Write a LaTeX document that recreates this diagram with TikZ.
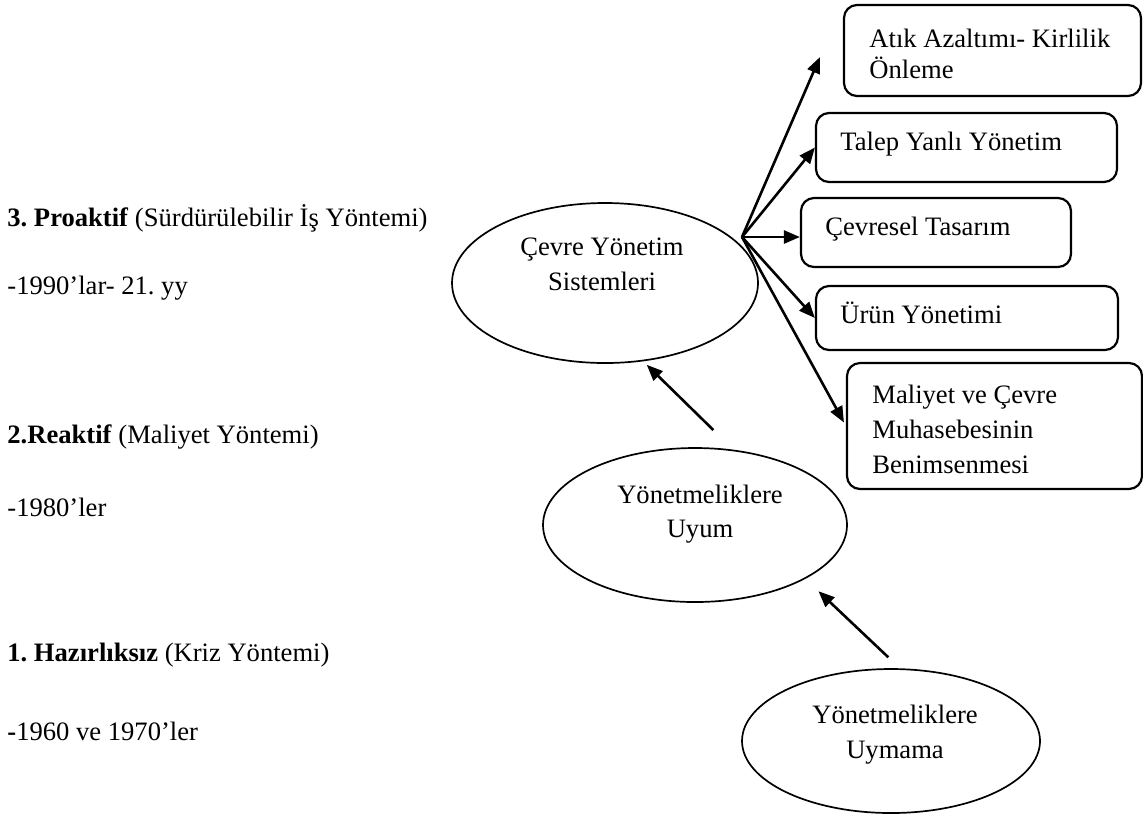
\documentclass[tikz,border=0pt]{standalone}
\usepackage{fontspec}
\setmainfont{Liberation Serif}
\usetikzlibrary{shapes.geometric,arrows.meta}
\def\pxu{0.5pt}
\frenchspacing
\begin{document}
\begin{tikzpicture}[x=0.5pt,y=-0.5pt,
  every node/.style={font=\fontsize{13.3}{17.5}\selectfont},
  box/.style={draw, line width=1.1pt, rounded corners=6.5pt, inner sep=0pt},
  oval/.style={draw, ellipse, line width=0.85pt, inner sep=0pt},
  txt/.style={inner sep=0pt, anchor=base west},
  mtxt/.style={inner sep=0pt, anchor=base west, align=left},
  ctxt/.style={inner sep=0pt, anchor=base, align=center},
  arr/.style={line width=1.3pt, -{Triangle[length=8pt,width=6.5pt]}}]

% page
\fill[white] (0,0) rectangle (1143,816);
\useasboundingbox (0,0) rectangle (1143,816);

% stages on the left
\node[txt] (p3) at (7,226) {\textbf{3. Proaktif} (Sürdürülebilir İş Yöntemi)};
\node[txt] (d3) at (7,294) {-1990’lar- 21. yy};
\node[txt] (p2) at (7,443) {\textbf{2.Reaktif} (Maliyet Yöntemi)};
\node[txt] (d2) at (7,516) {-1980’ler};
\node[txt] (p1) at (7,661) {\textbf{1. Hazırlıksız} (Kriz Yöntemi)};
\node[txt] (d1) at (7,740) {\textbf{-}1960 ve 1970’ler};

% ellipses
\node[oval, minimum width=306*\pxu, minimum height=160*\pxu] (cys) at (605,283) {};
\node[oval, minimum width=304*\pxu, minimum height=154*\pxu] (uyum) at (695,525) {};
\node[oval, minimum width=298*\pxu, minimum height=144*\pxu] (nonc) at (891,741) {};
\node[ctxt] (cyst) at (602,290) {Çevre Yönetim\\Sistemleri};
\node[ctxt, font=\fontsize{13.3}{17}\selectfont] (uyumt) at (700,537) {Yönetmeliklere\\Uyum};
\node[ctxt, font=\fontsize{13.3}{17.2}\selectfont] (nonct) at (895,758) {Yönetmeliklere\\Uymama};

% boxes
\node[box, minimum width=297*\pxu, minimum height=91*\pxu] (b1) at (992.5,50.5) {};
\node[box, minimum width=301*\pxu, minimum height=69*\pxu] (b2) at (966.5,147.5) {};
\node[box, minimum width=270*\pxu, minimum height=69*\pxu] (b3) at (936,232.5) {};
\node[box, minimum width=302*\pxu, minimum height=64*\pxu] (b4) at (967,318) {};
\node[box, minimum width=295*\pxu, minimum height=126*\pxu] (b5) at (994.5,426) {};

\node[mtxt, font=\fontsize{13.3}{15.4}\selectfont] (t1) at (869,78) {Atık Azaltımı- Kirlilik\\Önleme};
\node[txt] (t2) at (840,150) {Talep Yanlı Yönetim};
\node[txt] (t3) at (825,235) {Çevresel Tasarım};
\node[txt] (t4) at (840,323) {Ürün Yönetimi};
\node[mtxt] (t5) at (872,473) {Maliyet ve Çevre\\Muhasebesinin\\Benimsenmesi};

% connectors
\coordinate (hub) at (742,237);
\draw[arr, shorten >=29pt] (hub) -- (b1.north west);
\draw[arr] (hub) -- (b2.west);
\draw[arr] (hub) -- (hub -| b3.west);
\draw[arr] (hub) -- (b4.west);
\draw[arr, shorten >=2pt] (hub) -- (b5.west);

\draw[arr, shorten <=14pt, shorten >=2.5pt] (uyum.63.5) -- (cys.-64.5);
\draw[arr, shorten <=8pt, shorten >=9pt] (nonc.83.1) -- (uyum.-26.2);
\end{tikzpicture}
\end{document}
